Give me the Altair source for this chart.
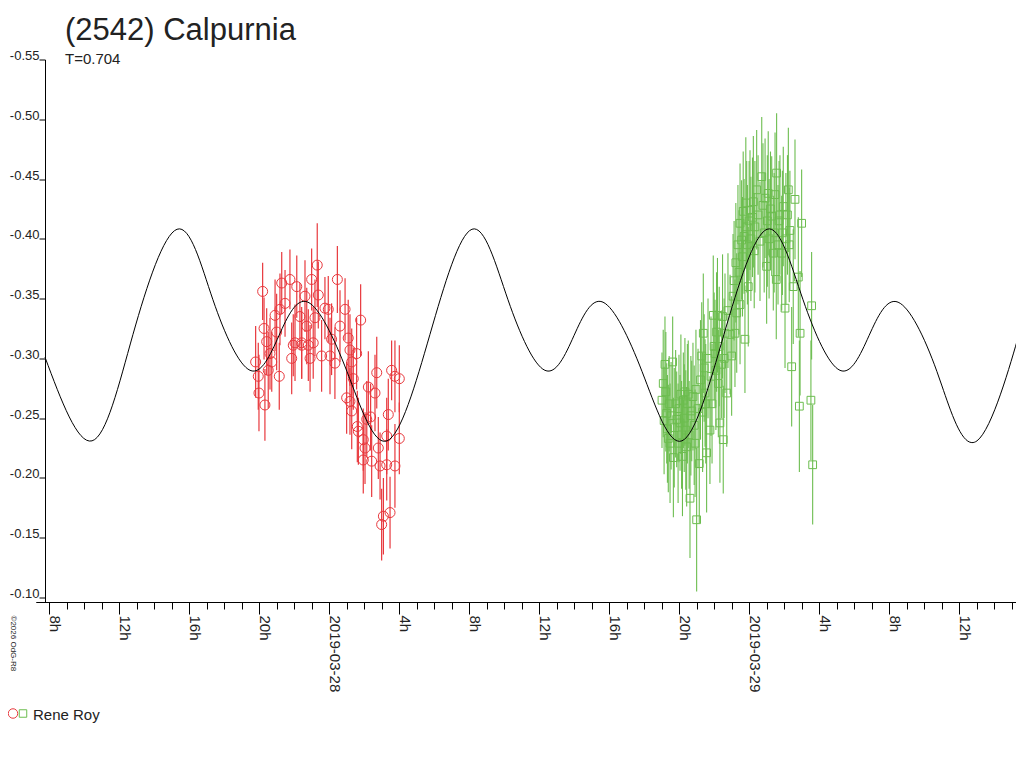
import altair as alt
import pandas as pd

# ---- data (hours since 2019-03-27 00:00, magnitudes) ----
curve_t = [7.743, 10.43, 12.77, 15.29, 17.34, 19.46, 21.11, 22.77, 25.00, 27.29,
           29.74, 32.14, 34.20, 36.31, 37.97, 39.63, 41.86, 44.14, 46.54, 49.00,
           51.06, 53.17, 54.83, 56.49, 58.71, 61.00, 63.40, 63.69]
curve_mag = [-0.301, -0.231, -0.320, -0.408, -0.349, -0.290, -0.319, -0.347, -0.289, -0.231,
             -0.320, -0.408, -0.349, -0.290, -0.319, -0.347, -0.289, -0.231, -0.320, -0.408,
             -0.349, -0.290, -0.319, -0.347, -0.289, -0.231, -0.320, -0.328]

red_t = [20.18, 19.78, 19.93, 19.97, 20.31, 20.26, 20.41, 20.60, 20.70, 20.50,
         20.89, 21.13, 21.27, 21.17, 20.98, 21.46, 21.74, 21.84, 22.03, 22.13,
         22.31, 22.41, 22.60, 22.70, 22.89, 22.98, 23.07, 23.17, 23.30, 23.36,
         23.55, 23.74, 23.93, 24.12, 24.03, 24.31, 24.45, 24.60, 24.89, 25.07,
         25.17, 25.27, 25.55, 25.78, 25.36, 24.98, 25.17, 25.27, 25.59, 25.65,
         25.93, 26.22, 26.35, 26.13, 26.03, 25.93, 26.41, 26.60, 26.70, 26.79,
         26.89, 27.27, 27.27, 27.36, 27.55, 27.74, 27.99, 27.99, 27.74, 26.98,
         27.08, 27.46, 21.93, 22.41, 22.79]
red_mag = [-0.356, -0.297, -0.285, -0.271, -0.261, -0.325, -0.314, -0.304, -0.297, -0.290,
           -0.336, -0.285, -0.363, -0.341, -0.322, -0.346, -0.366, -0.300, -0.313, -0.360,
           -0.335, -0.313, -0.352, -0.327, -0.300, -0.366, -0.313, -0.334, -0.378, -0.353,
           -0.302, -0.342, -0.341, -0.316, -0.302, -0.296, -0.366, -0.327, -0.341, -0.317,
           -0.307, -0.297, -0.304, -0.332, -0.283, -0.267, -0.264, -0.256, -0.243, -0.239,
           -0.232, -0.276, -0.251, -0.249, -0.225, -0.215, -0.214, -0.271, -0.288, -0.225,
           -0.210, -0.211, -0.235, -0.253, -0.290, -0.285, -0.283, -0.233, -0.210, -0.161,
           -0.168, -0.171, -0.311, -0.311, -0.311]
red_err = [0.024, 0.030, 0.028, 0.032, 0.030, 0.026, 0.028, 0.030, 0.025, 0.032,
           0.030, 0.028, 0.026, 0.030, 0.032, 0.028, 0.025, 0.030, 0.032, 0.026,
           0.028, 0.030, 0.030, 0.032, 0.028, 0.026, 0.030, 0.032, 0.035, 0.028,
           0.030, 0.026, 0.028, 0.030, 0.032, 0.030, 0.028, 0.030, 0.026, 0.032,
           0.030, 0.028, 0.030, 0.030, 0.026, 0.030, 0.028, 0.032, 0.030, 0.028,
           0.026, 0.030, 0.028, 0.032, 0.030, 0.028, 0.030, 0.032, 0.030, 0.026,
           0.028, 0.030, 0.032, 0.030, 0.025, 0.030, 0.028, 0.030, 0.035, 0.030,
           0.032, 0.030, 0.026, 0.028, 0.030]

green_t = [43.17, 43.07, 43.61, 43.27, 43.36, 43.65, 43.84, 44.12, 44.22, 44.41,
           44.50, 44.70, 44.60, 44.98, 44.89, 45.13, 45.27, 45.36, 45.46, 45.55,
           45.74, 45.93, 46.03, 46.12, 46.22, 46.31, 46.50, 46.41, 46.60, 46.70,
           46.98, 47.17, 47.27, 47.46, 47.74, 47.55, 47.46, 47.64, 47.84, 47.93,
           48.03, 48.22, 48.41, 48.70, 48.89, 48.98, 49.07, 49.27, 49.36, 49.53,
           49.55, 49.46, 49.74, 49.84, 49.93, 50.03, 50.22, 50.31, 50.41, 50.50,
           50.60, 50.79, 50.89, 50.85, 50.98, 51.55, 51.51, 51.61,
           43.00, 43.12, 43.22, 43.31, 43.41, 43.46, 43.52, 43.70, 43.78, 43.92, 43.97, 44.03,
           44.08, 44.17, 44.27, 44.31, 44.36, 44.45, 44.55, 44.65, 44.77, 44.84,
           44.94, 45.06, 45.20, 45.32, 45.41, 45.50, 45.63, 45.80, 45.86, 45.98,
           46.08, 46.17, 46.27, 46.46, 46.55, 46.77, 46.89, 47.06, 47.12, 47.22,
           47.34, 47.40, 47.60, 47.69, 47.79, 47.88, 47.98, 48.08, 48.17, 48.27,
           48.31, 48.49, 48.60, 48.77, 48.84, 49.02, 49.12, 49.20, 49.41, 49.63,
           49.69, 49.88, 50.08, 50.17, 50.27]
green_mag = [-0.295, -0.279, -0.297, -0.254, -0.233, -0.217, -0.249, -0.236, -0.265, -0.226,
             -0.270, -0.256, -0.183, -0.165, -0.229, -0.212, -0.302, -0.321, -0.271, -0.221,
             -0.240, -0.336, -0.304, -0.322, -0.279, -0.246, -0.232, -0.295, -0.321, -0.271,
             -0.302, -0.321, -0.338, -0.345, -0.316, -0.399, -0.413, -0.423, -0.410, -0.360,
             -0.424, -0.431, -0.441, -0.452, -0.434, -0.377, -0.438, -0.419, -0.388, -0.366,
             -0.455, -0.437, -0.420, -0.388, -0.427, -0.342, -0.441, -0.407, -0.293, -0.360,
             -0.433, -0.368, -0.321, -0.260, -0.413, -0.344, -0.265, -0.211,
             -0.265, -0.248, -0.272, -0.241, -0.262, -0.229, -0.252, -0.242, -0.262, -0.229, -0.258, -0.246,
             -0.270, -0.218, -0.250, -0.272, -0.240, -0.262, -0.236, -0.252, -0.268, -0.244,
             -0.274, -0.258, -0.282, -0.255, -0.292, -0.262, -0.300, -0.285, -0.262, -0.310,
             -0.290, -0.336, -0.310, -0.335, -0.300, -0.340, -0.320, -0.352, -0.365, -0.380,
             -0.395, -0.372, -0.385, -0.402, -0.430, -0.395, -0.415, -0.400, -0.418, -0.390,
             -0.410, -0.420, -0.398, -0.428, -0.405, -0.415, -0.400, -0.425, -0.405, -0.395,
             -0.415, -0.405, -0.400, -0.420, -0.395]
green_err = [0.040, 0.045, 0.038, 0.042, 0.045, 0.050, 0.040, 0.045, 0.040, 0.050,
             0.045, 0.042, 0.050, 0.060, 0.045, 0.050, 0.045, 0.050, 0.045, 0.050,
             0.045, 0.050, 0.045, 0.050, 0.045, 0.050, 0.045, 0.045, 0.050, 0.045,
             0.050, 0.045, 0.050, 0.050, 0.045, 0.050, 0.050, 0.050, 0.055, 0.050,
             0.050, 0.055, 0.050, 0.050, 0.050, 0.048, 0.052, 0.050, 0.048, 0.050,
             0.050, 0.052, 0.050, 0.048, 0.050, 0.050, 0.052, 0.050, 0.050, 0.048,
             0.050, 0.050, 0.052, 0.055, 0.045, 0.045, 0.050, 0.050,
             0.040, 0.045, 0.050, 0.045, 0.040, 0.050, 0.045, 0.050, 0.045, 0.050, 0.045, 0.040,
             0.050, 0.050, 0.045, 0.045, 0.050, 0.050, 0.045, 0.050, 0.045, 0.050,
             0.050, 0.050, 0.050, 0.050, 0.045, 0.050, 0.050, 0.050, 0.050, 0.045,
             0.050, 0.048, 0.050, 0.052, 0.050, 0.048, 0.050, 0.052, 0.050, 0.050,
             0.050, 0.052, 0.050, 0.048, 0.055, 0.050, 0.050, 0.052, 0.050, 0.048,
             0.055, 0.050, 0.050, 0.052, 0.050, 0.055, 0.050, 0.048, 0.050, 0.050,
             0.050, 0.052, 0.055, 0.050, 0.048]

major_ticks = [8, 12, 16, 20, 24, 28, 32, 36, 40, 44, 48, 52, 56, 60]
minor_ticks = list(range(8, 64))
y_ticks = [-0.55, -0.50, -0.45, -0.40, -0.35, -0.30, -0.25, -0.20, -0.15, -0.10]

RED = "#e8383d"
GREEN = "#6cbd4f"
FONT = "Liberation Sans"

curve_df = pd.DataFrame({"t": curve_t, "mag": curve_mag})
red_df = pd.DataFrame({"t": red_t, "mag": red_mag, "err": red_err})
green_df = pd.DataFrame({"t": green_t, "mag": green_mag, "err": green_err})

xscale = alt.Scale(domain=[7.229, 63.229], nice=False, zero=False)
yscale = alt.Scale(domain=[-0.55, -0.0962], reverse=True, nice=False, zero=False)

major_axis = alt.Axis(values=major_ticks, orient="bottom", tickSize=12, labelAngle=90,
                      labelAlign="left", labelBaseline="alphabetic", labelPadding=1,
                      labelExpr="datum.value % 24 == 0 ? timeFormat(datetime(2019, 2, 27 + datum.value / 24), '%Y-%m-%d') : (datum.value % 24) + 'h'",
                      labelFontSize=15, labelFont=FONT, labelColor="#222",
                      domainColor="black", tickColor="black", grid=False, title=None,
                      labelFlush=False, labelOverlap=False, labelBound=False)
minor_axis = alt.Axis(values=minor_ticks, orient="bottom", tickSize=7, labels=False,
                      domainColor="black", tickColor="black", grid=False, title=None)
yax = alt.Axis(values=y_ticks, orient="left", offset=-9, tickSize=6, labelPadding=0,
               labelAlign="right", labelBaseline="alphabetic",
               labelExpr="'-' + format(abs(datum.value), '.2f')",
               labelFontSize=13, labelFont=FONT, labelColor="#222",
               domainColor="black", tickColor="black", grid=False, title=None,
               labelFlush=False)

red_pts = alt.Chart(red_df).mark_point(shape="circle", filled=False, size=100,
                                       strokeWidth=1, color=RED, opacity=1).encode(
    x=alt.X("t:Q", scale=xscale, axis=None),
    y=alt.Y("mag:Q", scale=yscale, axis=yax))
red_bars = alt.Chart(red_df).transform_calculate(
    lo="datum.mag - datum.err", hi="datum.mag + datum.err"
).mark_rule(color=RED, strokeWidth=1.2).encode(
    x=alt.X("t:Q", scale=xscale, axis=None),
    y=alt.Y("lo:Q", scale=yscale, axis=yax), y2="hi:Q")

green_pts = alt.Chart(green_df).mark_point(shape="square", filled=False, size=60,
                                           strokeWidth=1, color=GREEN, opacity=1).encode(
    x=alt.X("t:Q", scale=xscale, axis=minor_axis),
    y=alt.Y("mag:Q", scale=yscale, axis=yax))
green_bars = alt.Chart(green_df).transform_calculate(
    lo="datum.mag - datum.err", hi="datum.mag + datum.err"
).mark_rule(color=GREEN, strokeWidth=1.1).encode(
    x=alt.X("t:Q", scale=xscale, axis=None),
    y=alt.Y("lo:Q", scale=yscale, axis=yax), y2="hi:Q")

curve = alt.Chart(curve_df).mark_line(color="black", strokeWidth=1,
                                      interpolate="natural", clip=True).encode(
    x=alt.X("t:Q", scale=xscale, axis=major_axis),
    y=alt.Y("mag:Q", scale=yscale, axis=yax))

one = alt.Data(values=[{"k": 0}])
title_txt = alt.Chart(one).mark_text(align="left", baseline="alphabetic", fontSize=31,
                                     font=FONT, color="#222").encode(
    x=alt.value(29), y=alt.value(-20), text=alt.value("(2542) Calpurnia"))
sub_txt = alt.Chart(one).mark_text(align="left", baseline="alphabetic", fontSize=15,
                                   font=FONT, color="#222").encode(
    x=alt.value(29), y=alt.value(4), text=alt.value("T=0.704"))
leg_c = alt.Chart(one).mark_point(shape="circle", filled=False, size=90, strokeWidth=1,
                                  color=RED, opacity=1).encode(
    x=alt.value(-23), y=alt.value(654))
leg_s = alt.Chart(one).mark_point(shape="square", filled=False, size=56, strokeWidth=1,
                                  color=GREEN, opacity=1).encode(
    x=alt.value(-13), y=alt.value(654))
leg_t = alt.Chart(one).mark_text(align="left", baseline="alphabetic", fontSize=15,
                                 font=FONT, color="#222").encode(
    x=alt.value(-3), y=alt.value(660), text=alt.value("Rene Roy"))
copy_t = alt.Chart(one).mark_text(align="left", baseline="bottom", angle=90, fontSize=8,
                                  font=FONT, color="#222").encode(
    x=alt.value(-27), y=alt.value(556), text=alt.value("\u00a92026 OdG-R8"))

chart = alt.layer(
    red_pts, red_bars, green_pts, green_bars, curve,
    title_txt, sub_txt, leg_c, leg_s, leg_t, copy_t
).resolve_axis(x="independent").properties(
    width=980, height=542.5,
    padding={"left": 28, "top": 51.5, "right": 0, "bottom": 150},
    autosize=alt.AutoSizeParams(type="none"),
).configure(font=FONT, background="white"
).configure_view(stroke="transparent", strokeWidth=0
).configure_axis(grid=False)

chart.save("out.html", embed_options={"renderer": "svg", "actions": False})
